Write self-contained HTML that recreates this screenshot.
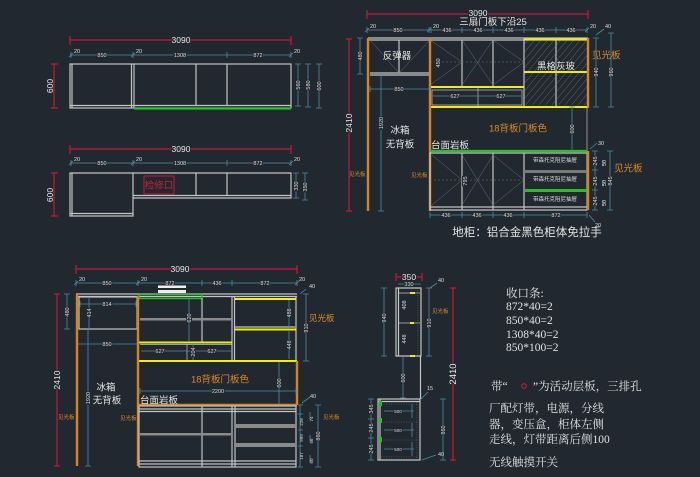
<!DOCTYPE html>
<html><head><meta charset="utf-8"><style>
html,body{margin:0;padding:0;background:#212830;}
svg{display:block}
.w{stroke:#c4c4c4;fill:none;stroke-width:1.2}
.wt{stroke:#c4c4c4;fill:none;stroke-width:.7}
.f{stroke:#6a6f76;fill:none;stroke-width:.5}
.b{stroke:#4d8ca2;fill:none;stroke-width:.8}
.r{stroke:#c8163a;fill:none;stroke-width:1.2}
.o{stroke:#d6841f;fill:none;stroke-width:2.4}
.y{stroke:#f0f000;fill:none;stroke-width:2}
.g{stroke:#22c422;fill:none;stroke-width:2.2}
text{font-family:"Liberation Sans","Noto Sans CJK SC",sans-serif;}
.d{font-size:5.5px;fill:#dcdcdc;text-anchor:middle}
.dl{font-size:8.5px;fill:#e8e8e8;text-anchor:middle}
.k{paint-order:stroke;stroke:#212830;stroke-width:2px}
.cn{font-size:9.5px;fill:#e4e4e4}
.c{text-anchor:middle}
.or{fill:#d88a2a}
.sm{font-size:5.5px;fill:#d88a2a}
.nt{font-family:"Liberation Serif","Noto Serif CJK SC",serif;font-size:11.5px;fill:#e2e2e2}
</style></head><body>
<svg width="700" height="477" viewBox="0 0 700 477" xmlns="http://www.w3.org/2000/svg">
<defs>
<pattern id="h" width="5" height="5" patternUnits="userSpaceOnUse" patternTransform="rotate(40)">
<line x1="0" y1="0" x2="0" y2="5" stroke="#8a8a8a" stroke-width="0.6"/>
</pattern>
</defs>
<rect width="700" height="477" fill="#212830"/>

<!-- ============ Drawing 1 (top-left) ============ -->
<line class="r" x1="70" y1="40" x2="291" y2="40"/>
<path class="r" d="M70 36V45M291 36V45"/>
<text class="dl k" x="181" y="43">3090</text>
<line class="b" x1="70" y1="55" x2="291" y2="55"/>
<path class="b" d="M71 52V58M133 52V58M227 52V58M291 52V58M69 57l4-4M131 57l4-4M289 57l4-4"/>
<text class="d" x="77" y="53">20</text>
<text class="d k" x="102" y="57">850</text>
<text class="d" x="139" y="53">20</text>
<text class="d k" x="180" y="57">1308</text>
<text class="d k" x="258" y="57">872</text>
<text class="d" x="297" y="53">20</text>
<rect class="w" x="70" y="64" width="221" height="44"/>
<path class="w" d="M72 64V108M131.5 64V108M134 64V108M196 64V106M227 64V106M70 105.5H291"/>
<line class="g" x1="134" y1="108.5" x2="291" y2="108.5"/>
<path class="r" d="M54 64V108M51 64H58M51 108H58"/>
<text class="dl" transform="translate(53,86) rotate(-90)">600</text>
<path class="b" d="M298 64V106M295 64H301M295 106H301M308 64V107M305 64H311M305 107H311M319 64V108M316 64H322M316 108H322"/>
<text class="d k" transform="translate(300,85) rotate(-90)">560</text>
<text class="d k" transform="translate(310,85) rotate(-90)">580</text>
<text class="d k" transform="translate(321,86) rotate(-90)">600</text>

<!-- ============ Drawing 2 ============ -->
<line class="r" x1="70" y1="149" x2="291" y2="149"/>
<path class="r" d="M70 145V154M291 145V154"/>
<text class="dl k" x="181" y="152">3090</text>
<line class="b" x1="70" y1="163" x2="291" y2="163"/>
<path class="b" d="M71 160V166M133 160V166M227 160V166M291 160V166M69 165l4-4M131 165l4-4M289 165l4-4"/>
<text class="d" x="77" y="161">20</text>
<text class="d k" x="102" y="165">850</text>
<text class="d" x="139" y="161">20</text>
<text class="d k" x="180" y="165">1308</text>
<text class="d k" x="258" y="165">872</text>
<text class="d" x="297" y="161">20</text>
<path class="w" d="M70 173H291V198H133V216H70Z"/>
<path class="w" d="M72 173V216M133 173V198M196 173V196M227 173V196M133 195.5H291M70 213.5H133"/>
<rect x="144" y="176" width="30" height="18" fill="none" stroke="#c8163a" stroke-width="1"/>
<text class="cn c" x="159" y="188.5" style="fill:#d01e3a">检修口</text>
<path class="r" d="M54 173V216M51 173H58M51 216H58"/>
<text class="dl" transform="translate(53,195) rotate(-90)">600</text>
<path class="b" d="M296 173V198M293 173H299M293 198H299M305 173V200M302 173H308M302 200H308"/>
<text class="d k" transform="translate(298,186) rotate(-90)">330</text>
<text class="d k" transform="translate(307,187) rotate(-90)">350</text>

<!-- ============ Drawing 3 (top-right) ============ -->
<line class="r" x1="367" y1="14" x2="588" y2="14"/>
<path class="r" d="M367 10V19M588 10V19"/>
<text class="dl k" x="478" y="16">3090</text>
<text class="cn c" x="493" y="25">三扇门板下沿25</text>
<line class="b" x1="367" y1="30" x2="587" y2="30"/>
<path class="b" d="M367 27V33M429 27V33M431 27V33M462 27V33M493 27V33M524 27V33M556 27V33M587 27V33M365 32l4-4M427 32l4-4M585 32l4-4"/>
<text class="d" x="373" y="28">20</text>
<text class="d k" x="398" y="32">850</text>
<text class="d" x="436" y="28">20</text>
<text class="d k" x="447" y="32">436</text>
<text class="d k" x="478" y="32">436</text>
<text class="d k" x="509" y="32">436</text>
<text class="d k" x="540" y="32">436</text>
<text class="d k" x="571" y="32">436</text>
<text class="d" x="593" y="28">20</text>
<path class="w" d="M368 38H588M368 40H588"/>
<path class="w" d="M370 73H430M370 75H430M399 40V73"/>
<path class="f" d="M370 40L399 73M430 40L399 73"/>
<text class="cn c" x="397" y="59">反弹器</text>
<path class="w" d="M462 40V87M493 40V87M524 38V107M556 38V107"/>
<path class="f" d="M430 40L462 62L430 85M462 40L493 85M493 40L462 85M493 40L524 62L493 85"/>
<path class="f" d="M430 62H524" stroke-dasharray="2 2"/>
<text class="d k" transform="translate(440,63) rotate(-90)">450</text>
<rect x="524" y="39" width="63" height="66" fill="url(#h)"/>
<path class="y" d="M430 87H524M430 107H588M524 39.5H587M524 72H587"/>
<path class="wt" d="M432 90H522V105H432ZM478 87V107"/>
<line class="b" x1="433" y1="96" x2="521" y2="96"/>
<text class="d k" x="455" y="98">627</text>
<text class="d k" x="501" y="98">627</text>
<text class="cn c k" x="556" y="69.5" style="stroke-width:1px">黑格灰玻</text>
<line class="o" x1="588" y1="38" x2="588" y2="108"/>
<text class="cn or" x="592" y="58.5">见光板</text>
<path class="b" d="M596 38V107M593 38H599M593 107H599M611 33V107M608 33H614M608 107H614M596 35L604 29"/>
<text class="d" x="608" y="28">40</text>
<text class="d k" transform="translate(598,72) rotate(-90)">940</text>
<text class="d k" transform="translate(613,72) rotate(-90)">960</text>
<line class="wt" x1="587" y1="107" x2="587" y2="151"/>
<path class="b" d="M572 107V151M569 107H575M569 151H575"/>
<text class="d k" transform="translate(574,129) rotate(-90)">600</text>
<!-- left side -->
<line class="o" x1="368" y1="38" x2="368" y2="211"/>
<line class="o" x1="430" y1="38" x2="430" y2="211"/>
<path class="b" d="M370 89H430M370 86V92M430 86V92"/>
<text class="d k" x="399" y="91">850</text>
<path class="b" d="M360 38V74M357 38H363M357 74H363"/>
<text class="d k" transform="translate(362,56) rotate(-90)">480</text>
<path class="b" d="M381 74V211M378 211H384"/>
<text class="d k" transform="translate(383,123) rotate(-90)">1920</text>
<path class="r" d="M349 39V211M346 39H352M346 211H352"/>
<text class="dl k" transform="translate(352,123) rotate(-90)">2410</text>
<text class="sm" x="349" y="176">见光板</text>
<text class="sm" x="411" y="177">见光板</text>
<text class="cn c" x="400" y="133.5">冰箱</text>
<text class="cn c" x="400" y="147.5">无背板</text>
<text class="cn c or" x="518" y="131.5">18背板门板色</text>
<text class="cn" x="431" y="148.5">台面岩板</text>
<line class="g" x1="430" y1="151" x2="587" y2="151" stroke-width="2.6"/>
<path class="w" d="M430 153H587V210H430ZM430 207H587M462 153V210M493 153V210M524 153V210"/>
<path class="f" d="M432 155L462 180L432 205M462 155L493 205M493 155L462 205M493 155L524 180L493 205"/>
<path class="f" d="M430 180H524" stroke-dasharray="2 2"/>
<text class="d k" transform="translate(467,181) rotate(-90)">795</text>
<rect x="524" y="170" width="63" height="3" fill="#7a7a7a"/>
<rect x="524" y="189" width="63" height="3" fill="#22c422"/>
<text class="d" x="555" y="162">带森托克阻尼抽屉</text>
<text class="d" x="555" y="181">带森托克阻尼抽屉</text>
<text class="d" x="555" y="201">带森托克阻尼抽屉</text>
<line class="o" x1="588" y1="151" x2="588" y2="210"/>
<line class="b" x1="430" y1="215" x2="587" y2="215"/>
<path class="b" d="M430 212V218M462 212V218M493 212V218M524 212V218M587 212V218M589 215L595 222"/>
<text class="d k" x="446" y="217">436</text>
<text class="d k" x="477" y="217">436</text>
<text class="d k" x="508" y="217">436</text>
<text class="d k" x="556" y="217">872</text>
<text class="d" x="598" y="227">20</text>
<path class="b" d="M595 151V210M592 151H598M592 170H598M592 190H598M592 210H598M603 160V166M603 180V186M603 200V206M610 151V210M607 151H613M607 210H613M590 149L597 143"/>
<text class="d" x="601" y="145">30</text>
<text class="d k" transform="translate(597,161) rotate(-90)">245</text>
<text class="d k" transform="translate(597,181) rotate(-90)">245</text>
<text class="d k" transform="translate(597,201) rotate(-90)">245</text>
<text class="d" transform="translate(606,163) rotate(-90)">50</text>
<text class="d" transform="translate(606,183) rotate(-90)">50</text>
<text class="d" transform="translate(606,203) rotate(-90)">50</text>
<text class="d k" transform="translate(612,181) rotate(-90)">845</text>
<text class="cn or" x="614" y="171.5">见光板</text>
<text class="cn c" x="527" y="236" style="font-size:11.5px">地柜：铝合金黑色柜体免拉手</text>

<!-- ============ Drawing 4 (bottom-left) ============ -->
<line class="r" x1="76" y1="269" x2="297" y2="269"/>
<path class="r" d="M76 265V274M297 265V274"/>
<text class="dl k" x="180" y="272">3090</text>
<line class="b" x1="76" y1="283" x2="297" y2="283"/>
<path class="b" d="M76 280V286M138 280V286M202 280V286M232 280V286M297 280V286M74 285l4-4M136 285l4-4M295 285l4-4"/>
<text class="d" x="82" y="281">20</text>
<text class="d k" x="107" y="285">850</text>
<text class="d" x="144" y="281">20</text>
<text class="d k" x="170" y="285">872</text>
<text class="d k" x="217" y="285">436</text>
<text class="d k" x="265" y="285">872</text>
<text class="d" x="302" y="281">20</text>
<rect x="158" y="285.5" width="28" height="2.5" fill="#eeeeee"/>
<rect x="158" y="290" width="28" height="3" fill="#eeeeee"/>
<path class="w" d="M76 294H297M76 296.5H297"/>
<rect x="139" y="294.5" width="63" height="4" fill="none" stroke="#22c422" stroke-width="1.4"/>
<rect class="w" x="79" y="297" width="58" height="32"/>
<path class="b" d="M80 304H136M80 301V307M136 301V307M89 297V329"/>
<text class="d k" x="107" y="306">814</text>
<text class="d k" transform="translate(91,313) rotate(-90)">414</text>
<path class="b" d="M67 294V329M64 294H70M64 329H70"/>
<text class="d k" transform="translate(69,312) rotate(-90)">480</text>
<path class="b" d="M77 344H138M77 341V347M138 341V347"/>
<text class="d k" x="107" y="346">850</text>
<path class="b" d="M88 329V466M85 466H91"/>
<text class="d k" transform="translate(90,398) rotate(-90)">1920</text>
<path class="r" d="M57 294V466M54 294H60M54 466H60"/>
<text class="dl k" transform="translate(60,380) rotate(-90)">2410</text>
<text class="sm" x="58" y="419">见光板</text>
<text class="sm" x="120" y="420">见光板</text>
<path class="w" d="M202 298V342M232 296V361M234.5 296V361M296 296V361"/>
<rect x="140" y="318" width="92" height="2.5" fill="#8a8a8a"/>
<line class="y" x1="139" y1="342.5" x2="232" y2="342.5"/>
<path class="wt" d="M140 344.5H232M187 344V361"/>
<path class="b" d="M141 351H231M189 299V341M193 344V360"/>
<text class="d k" x="160" y="353">627</text>
<text class="d k" x="212" y="353">627</text>
<text class="d k" transform="translate(195,352) rotate(-90)">204</text>
<text class="d k" transform="translate(191,318) rotate(-90)">620</text>
<path class="y" d="M235 299H296M235 329.5H296"/>
<rect x="235" y="326" width="61" height="2" fill="#8a8a8a"/>
<path class="b" d="M289 300V328M289 331V359"/>
<text class="d k" transform="translate(291,313) rotate(-90)">488</text>
<text class="d k" transform="translate(291,345) rotate(-90)">448</text>
<line class="y" x1="138" y1="361" x2="297" y2="361" stroke-width="2.4"/>
<path class="b" d="M306 294V361M303 294H309M303 361H309M300 294L306 289"/>
<text class="d" x="312" y="288">40</text>
<text class="d k" transform="translate(308,328) rotate(-90)">910</text>
<text class="cn or" x="309" y="321" style="font-size:8.5px">见光板</text>
<line class="o" x1="77" y1="294" x2="77" y2="466"/>
<line class="o" x1="138" y1="296" x2="138" y2="466"/>
<line class="o" x1="297" y1="361" x2="297" y2="405"/>
<line class="o" x1="138" y1="405" x2="297" y2="405" stroke-width="1.8"/>
<text class="cn c or" x="220" y="382.5">18背板门板色</text>
<path class="b" d="M140 391H296M140 388V394M296 388V394M279 362V404"/>
<text class="d k" x="218" y="393">2200</text>
<text class="d k" transform="translate(281,383) rotate(-90)">600</text>
<text class="cn c" x="106" y="390.5">冰箱</text>
<text class="cn c" x="107" y="403.5">无背板</text>
<text class="cn" x="140" y="403.5">台面岩板</text>
<rect class="w" x="139" y="406" width="157" height="61"/>
<path class="w" d="M139 409H296M139 411.5H296M139 461H296M139 464H296M202 406V467M232 406V467M235 406V467"/>
<rect x="139" y="433" width="93" height="2.5" fill="#8a8a8a"/>
<rect x="235" y="424" width="61" height="4" fill="#8a8a8a"/>
<rect x="235" y="443" width="61" height="4" fill="#8a8a8a"/>
<path class="b" d="M300 405V467M298 405H303M298 414H303M298 430H303M298 446H303M298 467H303M310 412V420M310 435V442M310 455V463M318 405V467M315 405H321M315 467H321M302 403L310 397"/>
<text class="d" x="313" y="398">40</text>
<text class="d" transform="translate(303,422) rotate(-90)" style="font-size:4.5px">228</text>
<text class="d" transform="translate(303,438) rotate(-90)" style="font-size:4.5px">999</text>
<text class="d" transform="translate(303,456) rotate(-90)" style="font-size:4.5px">187</text>
<text class="d" transform="translate(313,419) rotate(-90)" style="font-size:4.5px">74</text>
<text class="d" transform="translate(313,441) rotate(-90)" style="font-size:4.5px">56</text>
<text class="d" transform="translate(313,461) rotate(-90)" style="font-size:4.5px">60</text>
<text class="d k" transform="translate(320,436) rotate(-90)">860</text>
<text class="sm" x="323" y="419">见光板</text>

<!-- ============ Drawing 5 (bottom-middle side view) ============ -->
<path class="r" d="M396 277H422M396 273V281M422 273V281"/>
<text class="dl k" x="409" y="280">350</text>
<path class="b" d="M398 284H421"/>
<text class="d k" x="409" y="286">330</text>
<path class="w" d="M396 288H421V356H396ZM398.5 288V356"/>
<path class="wt" d="M399 293H420M399 323H420"/>
<path class="f" d="M418 290V355" stroke-dasharray="1 1.5"/>
<rect x="410" y="292" width="5" height="2" fill="#f0f000"/>
<rect x="410" y="322" width="4" height="2" fill="#f0f000"/>
<rect x="410" y="355" width="5" height="2" fill="#f0f000"/>
<text class="d k" transform="translate(406,305) rotate(-90)">408</text>
<text class="d k" transform="translate(406,339) rotate(-90)">448</text>
<path class="b" d="M384 288V356M381 288H387M381 356H387M429 288V356M426 288H432M426 356H432M430 288L437 283"/>
<text class="d k" transform="translate(386,318) rotate(-90)">940</text>
<text class="d k" transform="translate(431,323) rotate(-90)">910</text>
<text class="d" x="441" y="282">40</text>
<text class="sm" x="432" y="313">见光板</text>
<line class="w" x1="420.5" y1="356" x2="420.5" y2="399"/>
<path class="b" d="M403 357V398M400 398H406"/>
<text class="d k" transform="translate(405,378) rotate(-90)">600</text>
<path class="b" d="M421 399L428 392"/>
<text class="d" x="430" y="390">15</text>
<path class="w" d="M378 399H420V460H378ZM378 401.5H420M380 399V460"/>
<path class="f" d="M381 404H418M381 422H418M381 440H418M381 457H418" stroke-dasharray="1 1.5"/>
<path class="f" d="M417 402V458" stroke-dasharray="1 1.5"/>
<rect x="379" y="401" width="3" height="5" fill="#22c422"/>
<rect x="379" y="418" width="3" height="5" fill="#22c422"/>
<rect x="379" y="437" width="3" height="5" fill="#22c422"/>
<path class="b" d="M384 411H414M384 430H414M384 449H414M412 404V418M412 423V437M412 442V456"/>
<text class="d k" x="398" y="413" style="font-size:4.5px">500</text>
<text class="d k" x="398" y="432" style="font-size:4.5px">500</text>
<text class="d k" x="398" y="451" style="font-size:4.5px">500</text>
<path class="b" d="M371 399V460M368 399H374M368 419H374M368 438H374M368 460H374"/>
<text class="d k" transform="translate(373,409) rotate(-90)">345</text>
<text class="d k" transform="translate(373,428) rotate(-90)">245</text>
<text class="d k" transform="translate(373,449) rotate(-90)">245</text>
<path class="b" d="M443 399V460M440 399H446M440 460H446M422 460L436 455"/>
<text class="d k" transform="translate(445,430) rotate(-90)">860</text>
<text class="d" x="441" y="456">40</text>
<path class="r" d="M453 288V460M450 288H456M450 460H456"/>
<text class="dl k" transform="translate(456,374) rotate(-90)" style="font-size:9.5px">2410</text>

<!-- ============ Notes ============ -->
<text class="nt" x="506" y="297">收口条:</text>
<text class="nt" x="506" y="310">872*40=2</text>
<text class="nt" x="506" y="324">850*40=2</text>
<text class="nt" x="506" y="338">1308*40=2</text>
<text class="nt" x="506" y="351">850*100=2</text>
<text class="nt" x="491" y="390">带“</text>
<circle cx="524" cy="386" r="2.3" fill="none" stroke="#d01e3a" stroke-width="1"/>
<text class="nt" x="533" y="390">”为活动层板，三排孔</text>
<text class="nt" x="489" y="412">厂配灯带，电源，分线</text>
<text class="nt" x="489" y="428">器，变压盒，柜体左侧</text>
<text class="nt" x="489" y="443">走线，灯带距离后侧100</text>
<text class="nt" x="489" y="466">无线触摸开关</text>
</svg>
</body></html>
